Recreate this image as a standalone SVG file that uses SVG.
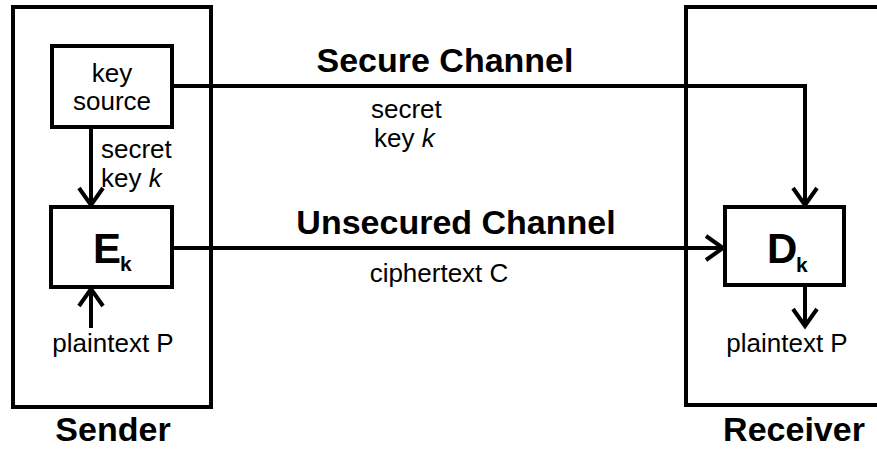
<svg xmlns="http://www.w3.org/2000/svg" width="877" height="454" viewBox="0 0 877 454">
  <style>
    .frame { fill: none; stroke: #000; stroke-width: 4; }
    .box { fill: #fff; stroke: #000; stroke-width: 4; }
    .wire { fill: none; stroke: #000; stroke-width: 4; }
    .t { font-family: "Liberation Sans", Arial, sans-serif; font-size: 26px; fill: #000; }
    .title { font-family: "Liberation Sans", Arial, sans-serif; font-size: 34px; font-weight: bold; fill: #000; }
    .op { font-family: "Liberation Sans", Arial, sans-serif; font-weight: bold; fill: #000; }
  </style>
  <defs>
    <marker id="arrow" markerUnits="userSpaceOnUse" markerWidth="30" markerHeight="30" viewBox="-20 -15 24 30" refX="0" refY="0" orient="auto" overflow="visible">
      <path d="M-17,-12 L0,0 L-17,12" fill="none" stroke="#000" stroke-width="4"/>
    </marker>
  </defs>
  <rect width="877" height="454" fill="#fff"/>

  <!-- party frames -->
  <g id="sender">
    <rect class="frame" x="13" y="7" width="198" height="400"/>
    <text class="title" x="113" y="441" text-anchor="middle">Sender</text>
  </g>
  <g id="receiver">
    <rect class="frame" x="686" y="7" width="200" height="398"/>
    <text class="title" x="794" y="441" text-anchor="middle">Receiver</text>
  </g>

  <!-- connectors -->
  <g id="connectors">
    <polyline class="wire" points="172,86 805,86 805,205" marker-end="url(#arrow)"/>
    <line class="wire" x1="91" y1="127" x2="91" y2="205" marker-end="url(#arrow)"/>
    <line class="wire" x1="172" y1="248" x2="723" y2="248" marker-end="url(#arrow)"/>
    <line class="wire" x1="91" y1="328" x2="91" y2="289" marker-end="url(#arrow)"/>
    <line class="wire" x1="805" y1="285" x2="805" y2="326" marker-end="url(#arrow)"/>
  </g>

  <!-- nodes -->
  <g id="key-source">
    <rect class="box" x="52" y="46" width="120" height="81"/>
    <text class="t" x="112" y="82" text-anchor="middle">key</text>
    <text class="t" x="112" y="110" text-anchor="middle">source</text>
  </g>
  <g id="encrypt">
    <rect class="box" x="51" y="207" width="121" height="80"/>
    <text class="op" x="93" y="263" font-size="42">E</text>
    <text class="op" x="120" y="271" font-size="21">k</text>
  </g>
  <g id="decrypt">
    <rect class="box" x="725" y="207" width="119" height="78"/>
    <text class="op" x="767" y="263" font-size="42">D</text>
    <text class="op" x="796" y="272" font-size="21">k</text>
  </g>

  <!-- labels -->
  <g id="labels">
    <text class="title" x="445" y="72" text-anchor="middle">Secure Channel</text>
    <text class="title" x="456" y="234" text-anchor="middle">Unsecured Channel</text>
    <text class="t" x="371" y="118">secret</text>
    <text class="t" x="374" y="147">key <tspan font-style="italic">k</tspan></text>
    <text class="t" x="101" y="158">secret</text>
    <text class="t" x="101" y="187">key <tspan font-style="italic">k</tspan></text>
    <text class="t" x="439" y="282" text-anchor="middle">ciphertext C</text>
    <text class="t" x="113" y="352" text-anchor="middle">plaintext P</text>
    <text class="t" x="787" y="352" text-anchor="middle">plaintext P</text>
  </g>
</svg>
